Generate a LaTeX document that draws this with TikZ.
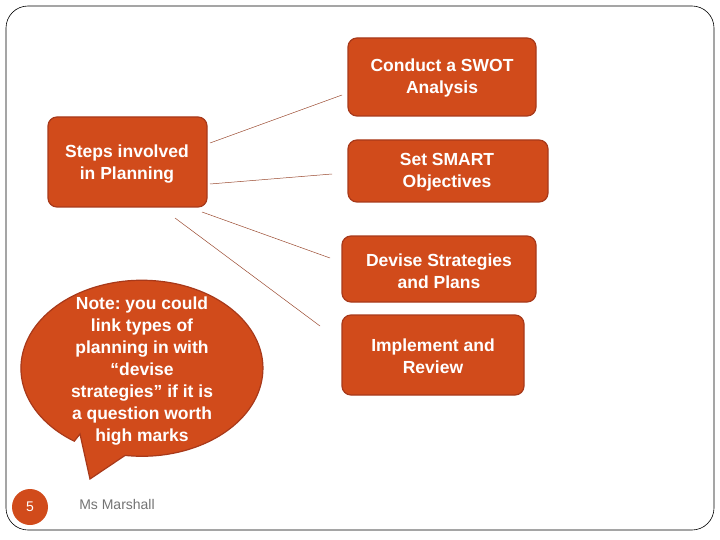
\documentclass[tikz,border=0pt]{standalone}
\usepackage{fontspec}
\setmainfont{Liberation Sans}
\frenchspacing
\usetikzlibrary{shapes.geometric}
\definecolor{org}{HTML}{D14B1B}
\definecolor{orgd}{HTML}{A8391A}
\definecolor{ln}{HTML}{9A4A30}
\tikzset{
  box/.style={draw=orgd,line width=1.2pt,fill=org,rounded corners=9pt},
  lbl/.style={text=white,font=\bfseries\fontsize{17.5}{22}\selectfont,align=center},
  conn/.style={draw=ln,line width=0.5pt}
}
\begin{document}
\begin{tikzpicture}[x=1pt,y=-1pt]
\useasboundingbox (0,0) rectangle (720,540);
\draw[black,line width=0.6pt,rounded corners=22pt] (6,6) rectangle (714,530);
% boxes
\draw[box] (348,38) rectangle (536,116);
\node[lbl] (swot) at (442,78) {Conduct a SWOT\\Analysis};
\draw[box] (48,117) rectangle (207,207);
\node[lbl] (steps) at (127,164) {Steps involved\\in Planning};
\draw[box] (348,140) rectangle (548,202);
\node[lbl] (smart) at (447,172) {Set SMART\\Objectives};
\draw[box] (342,236) rectangle (536,302);
\node[lbl] (dev) at (439,271) {Devise Strategies\\and Plans};
\draw[box] (342,315) rectangle (524,395);
\node[lbl] (imp) at (433,356) {Implement and\\Review};
% connectors
\coordinate (a1) at (210,143); \coordinate (b1) at (342,95);
\coordinate (a2) at (210,184); \coordinate (b2) at (332,174);
\coordinate (a3) at (202,212); \coordinate (b3) at (330,258);
\coordinate (a4) at (175,218); \coordinate (b4) at (320,326);
\draw[conn] (a1) -- (b1);
\draw[conn] (a2) -- (b2);
\draw[conn] (a3) -- (b3);
\draw[conn] (a4) -- (b4);
% callout
\draw[orgd,line width=1.2pt,fill=org] (80,434) -- (90,479) -- (125.1,455.4)
  arc[start angle=98,end angle=-236,x radius=121,y radius=88] -- cycle;
\node[lbl,align=center] (note) at (142,371) {Note: you could\\link types of\\planning in with\\“devise\\strategies” if it is\\a question worth\\high marks};
% footer
\node[circle,fill=org,minimum size=36pt,inner sep=0pt,text=white,font=\fontsize{14}{16}\selectfont] (num) at (30,507) {5};
\node[text=gray!90!black,font=\fontsize{14}{16}\selectfont] (ms) at (117,504) {Ms Marshall};
\end{tikzpicture}
\end{document}
